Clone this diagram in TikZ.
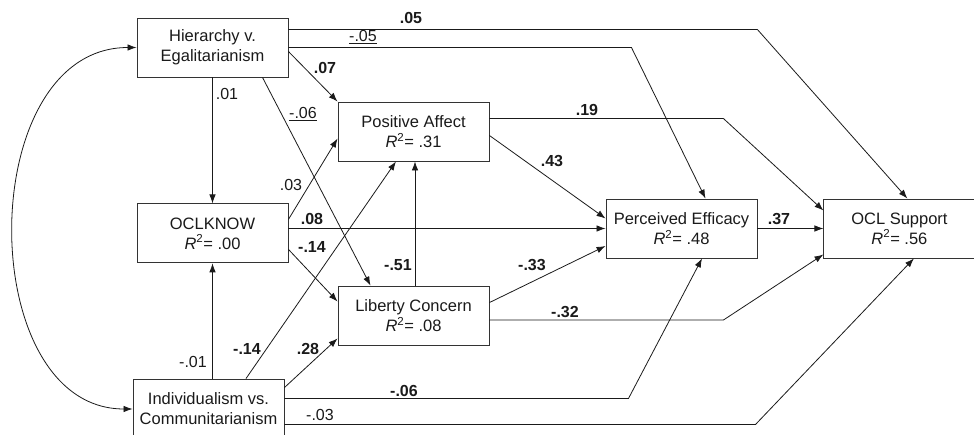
\documentclass[tikz,border=0pt]{standalone}
\usepackage{fontspec}
\setmainfont{Liberation Sans}
\usetikzlibrary{arrows.meta,positioning,calc}
\definecolor{boxGray}{HTML}{333333}
\definecolor{inkDark}{HTML}{1A1A1A}

\begin{document}
\begin{tikzpicture}[x=1pt,y=-1pt,
    varbox/.style={draw=boxGray,line width=0.9pt,align=center,minimum width=151pt,minimum height=59pt,inner sep=0pt,font=\fontsize{16.5}{20}\selectfont,text=inkDark},
    link/.style={-{Latex[length=9pt,width=6.5pt]},line width=0.8pt,draw=inkDark},
    coef/.style={font=\fontsize{16}{18}\selectfont,text=inkDark,inner sep=1pt}]
      \useasboundingbox (0,0) rectangle (974,435);
      % variables
      \node[varbox] (hier) at (212.5,47.5)
        {Hierarchy v.\\Egalitarianism};
      \node[varbox,below=126pt of hier] (oclk)
        {OCLKNOW\\{\itshape R}\textsuperscript{2}= .00};
      \node[varbox,minimum height=60pt] (indiv) at (208.5,409)
        {Individualism vs.\\Communitarianism};
      \node[varbox] (pos) at (413.5,131.5)
        {Positive Affect\\{\itshape R}\textsuperscript{2}= .31};
      \node[varbox] (lib) at (413.5,315.5)
        {Liberty Concern\\{\itshape R}\textsuperscript{2}= .08};
      \node[varbox] (eff) at (681.5,228.5)
        {Perceived Efficacy\\{\itshape R}\textsuperscript{2}= .48};
      \node[varbox,right=66pt of eff] (ocl)
        {OCL Support\\{\itshape R}\textsuperscript{2}= .56};
      % paths from hierarchy
      \draw[link] ([yshift=-12pt]hier.north east) -- ++(469,0) -- ([xshift=8pt]ocl.north);
      \draw[link] (hier.east) -- ++(343,0) -- ([xshift=24pt]eff.north);
      \draw[link] ([yshift=-4pt]hier.east) -- (pos.north west);
      \draw[link] (hier.south) -- (oclk.north);
      \draw[link] ([xshift=50pt]hier.south) -- ([xshift=-43pt]lib.north);
      % paths from OCLKNOW
      \draw[link] ([yshift=14pt]oclk.east) -- ([yshift=-7pt]pos.west);
      \draw[link] (oclk.east |- eff.west) -- (eff.west);
      \draw[link] ([yshift=-16pt]oclk.east) -- ([yshift=-16pt]lib.north west);
      % paths from individualism
      \draw[link] (oclk.south |- indiv.north) -- (oclk.south);
      \draw[link] ([xshift=37.5pt]indiv.north) -- ([xshift=-17.5pt]pos.south);
      \draw[link] ([yshift=-9pt]indiv.north east) -- ([yshift=7pt]lib.south west);
      \draw[link] ([yshift=-20pt]indiv.north east) -- ++(344,0) -- ([xshift=20.5pt]eff.south);
      \draw[link] ([yshift=-46pt]indiv.north east) -- ++(471,0) -- ([xshift=14.5pt]ocl.south);
      % mediators
      \draw[link] ([xshift=1.5pt]lib.north) -- ([xshift=1.5pt]pos.south);
      \draw[link] ([yshift=-17pt]pos.north east) -- ++(234,0) -- ([yshift=-12pt]ocl.north west);
      \draw[link] ([yshift=-4pt]pos.east) -- ([yshift=10pt]eff.west);
      \draw[link] ([yshift=-17pt]lib.north east) -- ([yshift=-17.5pt]eff.west);
      \draw[link] ([yshift=-4.5pt]lib.east) -- ++(234,0) -- ([yshift=4pt]ocl.south west);
      \draw[link] (eff.east) -- (ocl.west);
      % correlation
      \draw[{Latex[length=9pt,width=6.5pt]}-{Latex[length=9pt,width=6.5pt]},line width=0.8pt,draw=inkDark]
        (hier.west) .. controls +(-163,0) and +(-159,0) .. (indiv.west);
      % coefficients
      \node[coef] (k05a) at (411,18) {\textbf{.05}};
      \node[coef] (k05b) at (363,37) {\underline{-.05}};
      \node[coef] (k07) at (325,68) {\textbf{.07}};
      \node[coef] (k01a) at (227,94) {.01};
      \node[coef] (k06a) at (303,114) {\underline{-.06}};
      \node[coef] (k19) at (587,110) {\textbf{.19}};
      \node[coef] (k43) at (552,161) {\textbf{.43}};
      \node[coef] (k03a) at (291,185) {.03};
      \node[coef] (k08) at (312,219) {\textbf{.08}};
      \node[coef] (k14a) at (312,247) {\textbf{-.14}};
      \node[coef] (k51) at (398,265) {\textbf{-.51}};
      \node[coef] (k33) at (532,265) {\textbf{-.33}};
      \node[coef] (k37) at (779,219) {\textbf{.37}};
      \node[coef] (k14b) at (247,349) {\textbf{-.14}};
      \node[coef] (k28) at (308,349) {\textbf{.28}};
      \node[coef] (k01b) at (193,362) {-.01};
      \node[coef] (k32) at (565,312) {\textbf{-.32}};
      \node[coef] (k06b) at (404,391) {\textbf{-.06}};
      \node[coef] (k03b) at (320,415) {-.03};
    \end{tikzpicture}
\end{document}
